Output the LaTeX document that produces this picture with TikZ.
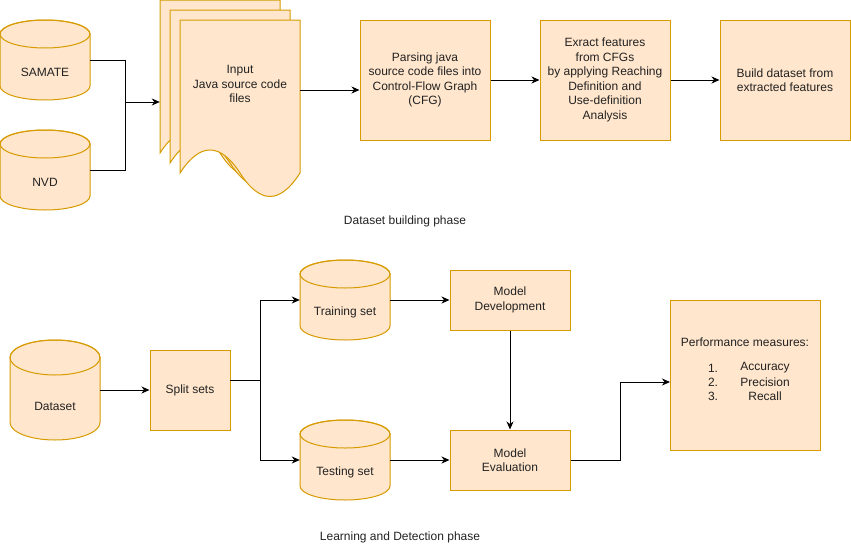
\documentclass[tikz,border=0pt]{standalone}
\usepackage{fontspec}
\setmainfont{Liberation Sans}
\usetikzlibrary{arrows.meta}
\definecolor{fillc}{HTML}{FFE6CC}
\definecolor{strokec}{HTML}{D79B00}
\definecolor{txt}{HTML}{222222}
\tikzset{
  shp/.style={fill=fillc,draw=strokec,line width=1pt},
  boxn/.style={shp,inner sep=0pt,align=center,text=txt,font=\fontsize{12}{14.5}\selectfont},
  lbl/.style={inner sep=0pt,align=center,text=txt,font=\fontsize{12}{14.5}\selectfont},
  conn/.style={draw=black,line width=1pt},
  arr/.style={conn,-{Stealth[length=8pt,width=7pt,inset=2.5pt]}},
}
% name, x, top, width, bottom, ry, text
\newcommand\mycyl[7]{%
  \path[shp] (#2,{#3+#6}) -- (#2,{#5-#6})
     arc[start angle=180,end angle=0,x radius={#4/2},y radius=#6]
     -- ({#2+#4},{#3+#6})
     arc[start angle=0,end angle=-180,x radius={#4/2},y radius=#6] -- cycle;
  \draw[draw=strokec,line width=1pt] ({#2+#4/2},{#3+#6}) ellipse[x radius={#4/2},y radius=#6];
  \node[inner sep=0pt,minimum width={#4*1pt},minimum height={(#5-#3)*1pt}] (#1) at ({#2+#4/2},{(#3+#5)/2}) {};
  \node[lbl] at ({#2+#4/2},{(#3+2*#6+#5)/2-1.5}) {#7};
}
% x, y (top-left)
\newcommand\mydoc[2]{%
  \path[shp] (#1,#2) -- ({#1+120},#2) -- ({#1+120},{#2+153})
    .. controls ({#1+100},{#2+184.3}) and ({#1+80},{#2+184.3}) .. ({#1+60},{#2+153})
    .. controls ({#1+40},{#2+122.3}) and ({#1+20},{#2+122.3}) .. (#1,{#2+153}) -- cycle;
}
\begin{document}
\begin{tikzpicture}[x=1pt,y=-1pt]
\useasboundingbox (0,0) rectangle (851,544);
% ---------- top phase
\mycyl{sam}{0}{20}{90}{100}{14}{SAMATE}
\mycyl{nvd}{0}{130}{90}{210}{14}{NVD}
\mydoc{160}{0}
\mydoc{170}{10}
\mydoc{180}{20}
\node[inner sep=0pt,minimum width=120pt,minimum height=153pt] (docback) at (220,76.5) {};
\node[inner sep=0pt,minimum width=120pt,minimum height=140pt] (docfront) at (240,90) {};
\node[lbl] at (240,84) {Input\\Java source code\\files};

\node[boxn,minimum width=130pt,minimum height=120pt] (parse) at (425,80)
  {Parsing java\\source code files into\\Control-Flow Graph\\(CFG)};
\node[boxn,minimum width=130pt,minimum height=120pt] (extract) at (605,80)
  {Exract features\\from CFGs\\by applying Reaching\\Definition and\\Use-definition\\Analysis};
\node[boxn,minimum width=130pt,minimum height=120pt] (build) at (785,80)
  {Build dataset from\\extracted features};

\coordinate (j1) at (125,102);
\draw[conn] (sam.east) -| (j1);
\draw[conn] (nvd.east) -| (j1);
\draw[arr] (j1) -- (j1 -| docback.west);
\draw[arr] (docfront.east) -- (docfront.east -| parse.west);
\draw[arr] (parse.east) -- (extract.west);
\draw[arr] (extract.east) -- (build.west);

\node[lbl] at (405,221) {Dataset building phase};

% ---------- bottom phase
\mycyl{ds}{10}{340}{90}{440}{17.5}{Dataset}
\node[boxn,minimum width=80pt,minimum height=80pt] (split) at (190,390) {Split sets};
\mycyl{train}{300}{260}{90}{340}{14}{Training set}
\mycyl{test}{300}{420}{90}{500}{14}{Testing set}
\node[boxn,minimum width=120pt,minimum height=60pt] (dev) at (510,300) {Model\\Development};
\node[boxn,minimum width=120pt,minimum height=60pt] (eval) at (510,460) {Model\\Evaluation};
\node[boxn,minimum width=150pt,minimum height=150pt] (perf) at (745,375) {};
\node[lbl] at (745,342) {Performance measures:};
\node[lbl] at (713,368) {1.};
\node[lbl] at (713,382) {2.};
\node[lbl] at (713,396) {3.};
\node[lbl] at (765,368) {Accuracy};
\node[lbl] at (765,382) {Precision};
\node[lbl] at (765,396) {Recall};

\draw[arr] (ds.east) -- (split.west);
\coordinate (sp) at (230,380);
\coordinate (j2) at (260,380);
\draw[conn] (sp) -- (j2);
\draw[arr] (j2) |- (train.west);
\draw[arr] (j2) |- (test.west);
\draw[arr] (train.east) -- (dev.west);
\draw[arr] (test.east) -- (eval.west);
\draw[arr] (dev.south) -- (eval.north);
\coordinate (pin) at (670,382);
\draw[arr] (eval.east) -- (620,460) |- (pin);

\node[lbl] at (400,537) {Learning and Detection phase};
\end{tikzpicture}
\end{document}
